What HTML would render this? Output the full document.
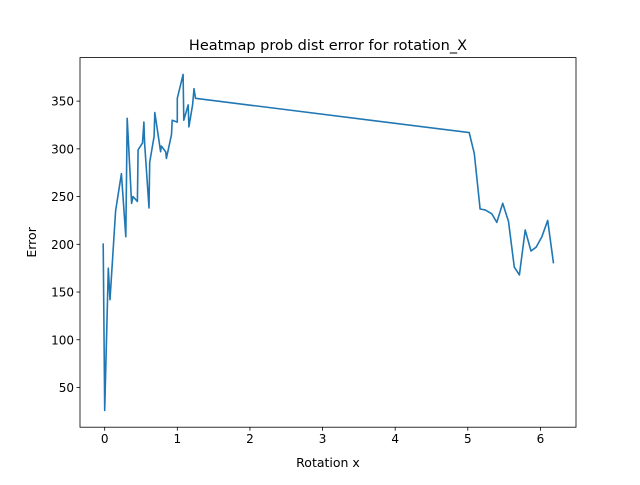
<!DOCTYPE html>
<html><head><meta charset="utf-8"><style>
body{margin:0;background:#fff}
svg text{font-family:"DejaVu Sans","Liberation Sans",sans-serif;fill:#000}
</style></head><body>
<svg id="chart" width="640" height="480" xmlns="http://www.w3.org/2000/svg"></svg>
<script>
const xValues=[-0.02,0,0.05,0.073,0.15,0.23,0.29,0.31,0.37,0.39,0.45,0.46,0.52,0.54,0.55,0.61,0.62,0.68,0.69,0.76,0.77,0.78,0.84,0.85,0.92,0.93,1.0,1.0,1.08,1.09,1.15,1.16,1.21,1.23,1.25,5.02,5.09,5.17,5.24,5.33,5.40,5.48,5.56,5.64,5.71,5.79,5.87,5.94,6.02,6.10,6.18];
const yValues=[201,26,175,142,235,274,208,332,243,250,245,299,306,328,306,238,286,313,338,302,297,303,297,290,315,330,328,353,378,330,346,323,346,363,353,317,295,237,236,232,223,243,224,176,168,215,193,197,208,225,180];
const xTicks=[0,1,2,3,4,5,6];
const yTicks=[50,100,150,200,250,300,350];
const L=80,R=576,T=57.6,B=427.2,xmin=-0.34,xmax=6.49,ymin=8.4,ymax=395.6;
const sx=v=>L+(v-xmin)/(xmax-xmin)*(R-L);
const sy=v=>B-(v-ymin)/(ymax-ymin)*(B-T);
const svg=document.getElementById('chart');
const NS='http://www.w3.org/2000/svg';
function mk(tag,attrs,parent){const e=document.createElementNS(NS,tag);for(const k in attrs)e.setAttribute(k,attrs[k]);(parent||svg).appendChild(e);return e;}
const frame=mk('rect',{x:L,y:T,width:R-L,height:B-T,fill:'none',stroke:'#000','stroke-width':0.8});


xTicks.forEach(t=>{
 const g=mk('g',{});
 
 
 mk('line',{x1:sx(t),x2:sx(t),y1:B,y2:B+3.5,stroke:'#000','stroke-width':0.8},g);
 const tx=mk('text',{x:sx(t),y:B+16,'text-anchor':'middle','font-size':'12'},g);tx.textContent=t;
});
yTicks.forEach(t=>{
 const g=mk('g',{});
 
 
 mk('line',{x1:L-3.5,x2:L,y1:sy(t),y2:sy(t),stroke:'#000','stroke-width':0.8},g);
 const tx=mk('text',{x:L-6,y:sy(t)+4.5,'text-anchor':'end','font-size':'12'},g);tx.textContent=t;
});
const pts=xValues.map((x,i)=>sx(x).toFixed(1)+','+sy(yValues[i]).toFixed(1)).join(' ');
const line=mk('polyline',{points:pts,fill:'none',stroke:'#1f77b4','stroke-width':1.6,'stroke-linejoin':'round'});


const title=mk('text',{x:(L+R)/2,y:50,'text-anchor':'middle','font-size':'14.5'});title.textContent='Heatmap prob dist error for rotation_X';


const xl=mk('text',{x:(L+R)/2,y:467,'text-anchor':'middle','font-size':'12.5'});xl.textContent='Rotation x';


const yl=mk('text',{x:0,y:0,'text-anchor':'middle','font-size':'12.5',transform:'translate(36,'+((T+B)/2)+') rotate(-90)'});yl.textContent='Error';


</script>
</body></html>
